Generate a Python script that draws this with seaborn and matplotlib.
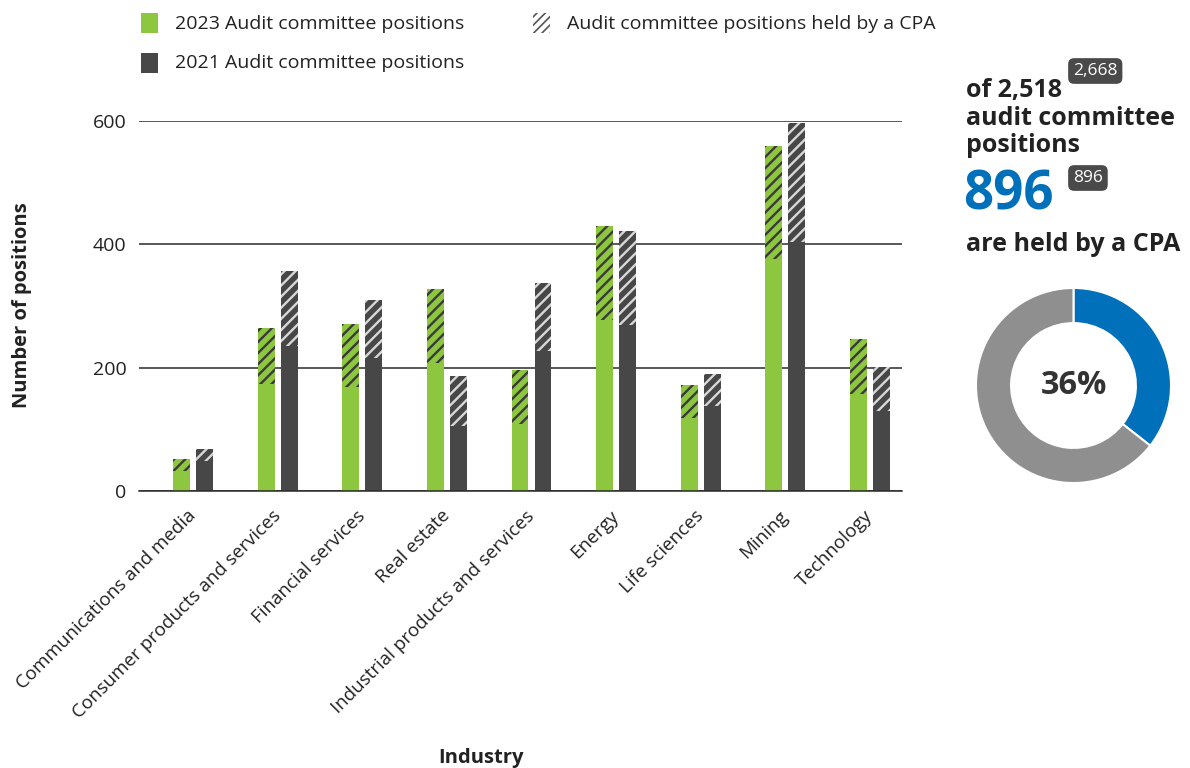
import numpy as np
import pandas as pd
import matplotlib
matplotlib.use("Agg")
import matplotlib.pyplot as plt
from matplotlib.patches import Rectangle
import seaborn as sns

# --- data ---------------------------------------------------------------
industries = [
    "Communications and media",
    "Consumer products and services",
    "Financial services",
    "Real estate",
    "Industrial products and services",
    "Energy",
    "Life sciences",
    "Mining",
    "Technology",
]
years = ["2023", "2021"]
positions_2023 = [52, 264, 271, 327, 196, 430, 172, 560, 246]
cpa_2023 = [20, 90, 102, 119, 88, 152, 53, 183, 89]
positions_2021 = [68, 357, 310, 187, 338, 421, 190, 596, 201]
cpa_2021 = [20, 122, 94, 82, 111, 151, 52, 192, 72]

total_2023 = 2518
total_2021 = 2668
cpa_total_2023 = 896
cpa_total_2021 = 896
y_ticks = [0, 200, 400, 600]

# --- style --------------------------------------------------------------
GREEN = "#8DC63F"
DARK = "#474747"
BLUE = "#0070BA"
GREY = "#8F8F8F"
TEXT = "#222222"

sns.set_style("white")
plt.rcParams["font.family"] = ["Open Sans", "DejaVu Sans"]
plt.rcParams["hatch.linewidth"] = 1.7

df = pd.DataFrame({
    "industry": industries * 2,
    "year": ["2023"] * len(industries) + ["2021"] * len(industries),
    "total": positions_2023 + positions_2021,
    "cpa": cpa_2023 + cpa_2021,
})
df["non_cpa"] = df["total"] - df["cpa"]

W, H = 1190, 768
fig = plt.figure(figsize=(W / 100, H / 100), dpi=100)


def fx(px):
    return px / W


def fy(py):
    return 1 - py / H


ax = fig.add_axes([fx(139), fy(491), fx(902) - fx(139), fy(121) - fy(491)])

bar_kw = dict(
    x="industry", y="total", hue="year", order=industries, hue_order=years,
    palette={"2023": GREEN, "2021": DARK}, width=0.544, gap=0.265,
    dodge=True, legend=False, saturation=1, errorbar=None, ax=ax,
)

# full-height bars carry the hatched CPA share on top
sns.barplot(data=df, **bar_kw)
n_total = len(ax.patches)
green_rgba = matplotlib.colors.to_rgba(GREEN)
for p in ax.patches[:n_total]:
    is_green = np.allclose(p.get_facecolor(), green_rgba)
    p.set_hatch("///")
    p.set_edgecolor("#3a3a3a" if is_green else "#d8d8d8")
    p.set_linewidth(0)

# solid non-CPA part drawn over the lower section
sns.barplot(data=df, **{**bar_kw, "y": "non_cpa"})
for p in ax.patches[n_total:]:
    p.set_linewidth(0)

ax.set_xlim(-0.64, 8.38)
ax.set_ylim(0, 600)
ax.set_yticks(y_ticks)
ax.set_yticklabels([str(v) for v in y_ticks])
ax.yaxis.grid(True, color="#2a2a2a", linewidth=1.1)
ax.set_axisbelow(True)
for s in ["top", "right", "left"]:
    ax.spines[s].set_visible(False)
ax.spines["bottom"].set_color("#2a2a2a")
ax.spines["bottom"].set_linewidth(1.1)
ax.set_xlabel("")
ax.set_ylabel("")
ax.tick_params(axis="y", length=0, pad=9, labelsize=14, labelcolor=TEXT)
ax.tick_params(axis="x", length=0, pad=16, labelsize=13.5, labelcolor=TEXT)
for lab in ax.get_xticklabels():
    lab.set_rotation(45)
    lab.set_ha("right")
    lab.set_va("center")
    lab.set_rotation_mode("anchor")

fig.text(fx(22), fy(305), "Number of positions", rotation=90, ha="center",
         va="center", fontsize=14.5, fontweight="bold", color=TEXT)
fig.text(fx(481), fy(758), "Industry", ha="center", va="center",
         fontsize=14.5, fontweight="bold", color=TEXT)

# --- legend -------------------------------------------------------------
sq_w, sq_h = 17, 20
fig.add_artist(Rectangle((fx(141), fy(33)), sq_w / W, sq_h / H,
                         transform=fig.transFigure, facecolor=GREEN, lw=0))
fig.add_artist(Rectangle((fx(141), fy(73)), sq_w / W, sq_h / H,
                         transform=fig.transFigure, facecolor=DARK, lw=0))
with plt.rc_context({"hatch.linewidth": 1.2}):
    fig.add_artist(Rectangle((fx(533), fy(33)), sq_w / W, sq_h / H,
                             transform=fig.transFigure, facecolor="white",
                             edgecolor="#555555", hatch="////", lw=0))
fig.text(fx(175), fy(24), "2023 Audit committee positions", fontsize=14,
         va="center", color=TEXT)
fig.text(fx(175), fy(63), "2021 Audit committee positions", fontsize=14,
         va="center", color=TEXT)
fig.text(fx(567), fy(24), "Audit committee positions held by a CPA",
         fontsize=14, va="center", color=TEXT)

# --- summary text -------------------------------------------------------
badge = dict(boxstyle="round,pad=0.28,rounding_size=0.35", fc="#4a4a4a", ec="none")
fig.text(fx(966), fy(97), f"of {total_2023:,}", fontsize=18, fontweight="bold",
         color=TEXT, va="baseline")
fig.text(fx(1073), fy(71), f"{total_2021:,}", fontsize=12.5, color="white",
         ha="left", va="center", bbox=badge)
fig.text(fx(966), fy(125), "audit committee", fontsize=18, fontweight="bold",
         color=TEXT, va="baseline")
fig.text(fx(966), fy(152), "positions", fontsize=18, fontweight="bold",
         color=TEXT, va="baseline")
fig.text(fx(963), fy(210), f"{cpa_total_2023}", fontsize=38, fontweight="bold",
         color=BLUE, va="baseline")
fig.text(fx(1073), fy(178), f"{cpa_total_2021}", fontsize=12.5, color="white",
         ha="left", va="center", bbox=badge)
fig.text(fx(966), fy(251), "are held by a CPA", fontsize=18, fontweight="bold",
         color=TEXT, va="baseline")

# --- donut --------------------------------------------------------------
dax = fig.add_axes([fx(975), fy(484), (1172 - 975) / W, (484 - 287) / H])
share = cpa_total_2023 / total_2023
dax.pie([cpa_total_2023, total_2023 - cpa_total_2023], colors=[BLUE, GREY],
        startangle=90, counterclock=False,
        wedgeprops=dict(width=0.36, edgecolor="white", linewidth=1.5))
dax.set_xlim(-1.01, 1.01)
dax.set_ylim(-1.01, 1.01)
dax.set_aspect("equal")
dax.text(0, 0, f"{share:.0%}", ha="center", va="center", fontsize=23.5,
         fontweight="bold", color="#333333")

fig.savefig("out.png", dpi=100)
